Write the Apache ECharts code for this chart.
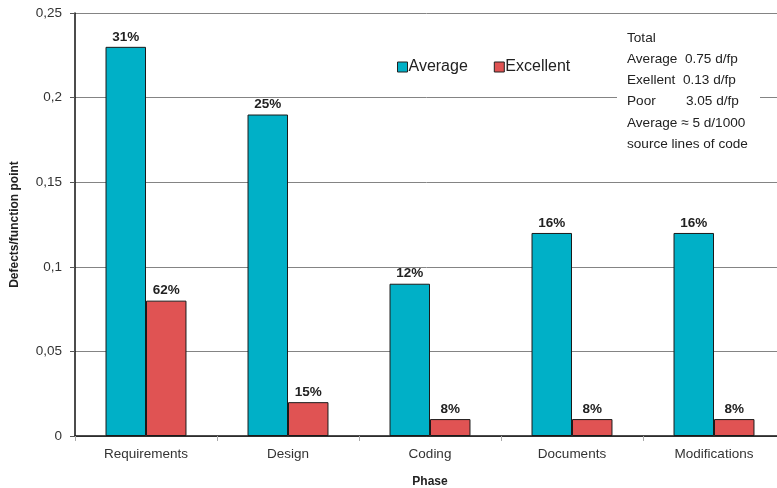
<!DOCTYPE html>
<html>
<head>
<meta charset="utf-8">
<style>
  html, body { margin: 0; padding: 0; background: #fff; }
  #chart { width: 777px; height: 488px; }
</style>
<script src="https://cdn.jsdelivr.net/npm/echarts@6/dist/echarts.min.js"></script>
</head>
<body>
<div id="chart"></div>
<script>
// Defects per function point by development phase
const phases = ['Requirements', 'Design', 'Coding', 'Documents', 'Modifications'];
const averageValues = [0.23, 0.19, 0.09, 0.12, 0.12];
const excellentValues = [0.08, 0.02, 0.01, 0.01, 0.01];
const averageShares = ['31%', '25%', '12%', '16%', '16%'];
const excellentShares = ['62%', '15%', '8%', '8%', '8%'];
const yTicks = [0, 0.05, 0.1, 0.15, 0.2, 0.25];
const totalsNote = [
  'Total',
  'Average  0.75 d/fp',
  'Exellent  0.13 d/fp',
  'Poor        3.05 d/fp',
  'Average \u2248 5 d/1000',
  'source lines of code'
];

const FONT = '"Liberation Sans", Arial, Helvetica, sans-serif';
const chart = echarts.init(document.getElementById('chart'), null, { renderer: 'canvas' });

function shareLabel(shares) {
  return {
    show: true,
    position: 'top',
    distance: 3,
    fontFamily: FONT,
    fontSize: 13.5,
    fontWeight: 'bold',
    color: '#222',
    formatter: p => shares[p.dataIndex]
  };
}

const noteTexts = totalsNote.map((line, i) => ({
  type: 'text',
  left: 627,
  top: 31 + i * 21.2,
  z: 20,
  style: { text: line, fontFamily: FONT, fontSize: 13.6, fill: '#222' }
}));

const option = {
  animation: false,
  textStyle: { fontFamily: FONT },
  grid: {
    left: 75, right: -8, top: 13, bottom: 52,
    containLabel: false,
    outerBoundsMode: 'none'
  },
  legend: {
    data: ['Average', 'Excellent'],
    left: 392,
    top: 54,
    itemWidth: 10,
    itemHeight: 10,
    itemGap: 26,
    icon: 'rect',
    textStyle: { fontFamily: FONT, fontSize: 16, color: '#222', padding: [0, 0, 0, -4] },
    itemStyle: { borderColor: '#222', borderWidth: 1 }
  },
  xAxis: {
    type: 'category',
    data: phases,
    name: 'Phase',
    nameLocation: 'middle',
    nameGap: 40,
    nameTextStyle: { fontFamily: FONT, fontSize: 12, fontWeight: 'bold', color: '#222' },
    axisLine: { lineStyle: { color: '#111', width: 1.5 } },
    axisTick: { show: true, alignWithLabel: false, length: 5, lineStyle: { color: '#aaa' } },
    axisLabel: { fontFamily: FONT, fontSize: 13.5, color: '#333', margin: 11 }
  },
  yAxis: {
    type: 'value',
    min: 0,
    max: 0.25,
    interval: 0.05,
    name: 'Defects/function point',
    nameLocation: 'middle',
    nameGap: 54,
    nameRotate: 90,
    nameTextStyle: { fontFamily: FONT, fontSize: 12, fontWeight: 'bold', color: '#222' },
    axisLine: { show: true, lineStyle: { color: '#111', width: 1.5 } },
    axisTick: { show: true, length: 5, lineStyle: { color: '#555' } },
    axisLabel: {
      fontFamily: FONT, fontSize: 13.5, color: '#333', margin: 13,
      formatter: v => {
        const t = yTicks.find(x => Math.abs(x - v) < 1e-9);
        return String(t !== undefined ? t : v).replace('.', ',');
      }
    },
    splitLine: { show: true, lineStyle: { color: '#848484', width: 1 } }
  },
  series: [
    {
      name: 'Average',
      type: 'bar',
      data: averageValues,
      barGap: '0%',
      barCategoryGap: '43%',
      itemStyle: { color: '#00b0c7', borderColor: '#1a1a1a', borderWidth: 1 },
      label: shareLabel(averageShares)
    },
    {
      name: 'Excellent',
      type: 'bar',
      data: excellentValues,
      itemStyle: { color: '#e05353', borderColor: '#1a1a1a', borderWidth: 1 },
      label: shareLabel(excellentShares)
    }
  ],
  graphic: [
    {
      type: 'rect',
      left: 617, top: 22,
      shape: { width: 143, height: 132 },
      style: { fill: '#fff' },
      z: 10
    }
  ].concat(noteTexts)
};

chart.setOption(option);
</script>
</body>
</html>
